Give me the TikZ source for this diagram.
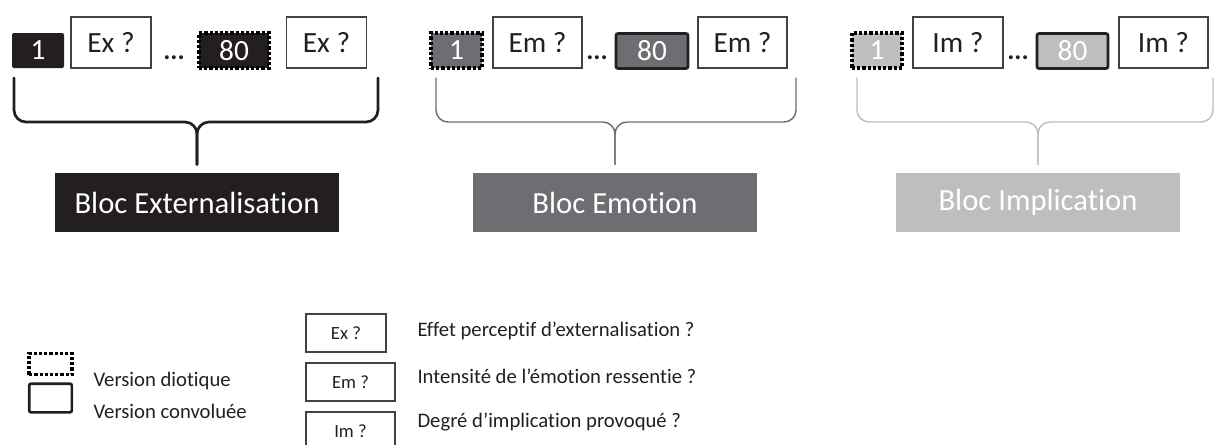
\documentclass[tikz,border=0pt]{standalone}
\usepackage{fontspec}
\setmainfont{Carlito}[Ligatures=NoCommon]
\usepackage{tikz}
\definecolor{cbblack}{HTML}{231F20}
\definecolor{cbgray}{HTML}{6D6E71}
\definecolor{cblight}{HTML}{BCBEC0}

\begin{document}
\begin{tikzpicture}[x=0.75pt, y=-0.75pt, line width=0.8pt,
  qbox/.style={draw=cbblack!85, fill=white, inner sep=0pt, minimum height=38.25pt, text=cbblack, font=\fontsize{22}{22}\selectfont},
  numbox/.style={inner sep=0pt, minimum height=26.25pt, text=white, font=\fontsize{22}{22}\selectfont},
  diotic/.style={draw=black, line width=2.6pt, dash pattern=on 2.4pt off 1.5pt},
  convol/.style={draw=cbblack, line width=2pt, rounded corners=1.5pt},
  dots/.style={inner sep=0pt, text=cbblack, font=\bfseries\fontsize{20}{20}\selectfont},
  blockbox/.style={inner sep=0pt, minimum width=213pt, minimum height=44.25pt, text=white, font=\fontsize{23}{23}\selectfont},
  legbox/.style={draw=cbblack!85, inner sep=0pt, minimum height=28.5pt, text=cbblack, font=\fontsize{14}{14}\selectfont},
  legtext/.style={anchor=west, inner sep=0pt, text=cbblack, font=\fontsize{15.5}{15.5}\selectfont}]
  \clip (0,0) rectangle (1215,444);

  % bloc externalisation
  \node[numbox, minimum width=39pt, fill=cbblack, rounded corners=1.5pt] (x1) at (38,50.5) {1};
  \node[qbox, minimum width=60pt] (xq1) at (111,42.5) {Ex ?};
  \node[dots] (xd) at (174,58) {...};
  \node[numbox, minimum width=52.5pt, fill=cbblack, diotic] (x80) at (234,50.5) {80};
  \node[qbox, minimum width=60pt] (xq2) at (326.5,42.5) {Ex ?};
  \node[blockbox, fill=cbblack] (bx) at (197,202.5) {Bloc Externalisation};

  % bloc emotion
  \node[numbox, minimum width=38.25pt, fill=cbgray, diotic] (m1) at (456.5,50.5) {1};
  \node[qbox, minimum width=66.75pt] (mq1) at (537.5,42.5) {Em ?};
  \node[dots] (md) at (597,58) {...};
  \node[numbox, minimum width=54pt, fill=cbgray, convol] (m80) at (652,51) {80};
  \node[qbox, minimum width=66.75pt] (mq2) at (742.5,42.5) {Em ?};
  \node[blockbox, fill=cbgray] (bm) at (615,202.5) {Bloc Emotion};

  % bloc implication
  \node[numbox, minimum width=37.5pt, fill=cblight, diotic] (i1) at (877,50.5) {1};
  \node[qbox, minimum width=67.5pt] (iq1) at (958,42.5) {Im ?};
  \node[dots] (id) at (1018,58) {...};
  \node[numbox, minimum width=53.25pt, fill=cblight, convol] (i80) at (1072.5,51) {80};
  \node[qbox, minimum width=66.75pt] (iq2) at (1163.5,42.5) {Im ?};
  \node[blockbox, fill=cblight] (bi) at (1038,202.5) {Bloc Implication};

  % accolades
  \foreach \l/\r/\b/\c/\w in {14/378/bx/cbblack/2pt, 436/796/bm/cbgray/1.1pt, 857/1213/bi/cblight/1.1pt}{
    \draw[\c, line width=\w, rounded corners=9pt, line cap=round, shorten >=6pt] (\l,78) -- (\l,122) -- (\b.north |- 0,122) -- (\b.north);
    \draw[\c, line width=\w, rounded corners=9pt, line cap=round, shorten >=6pt] (\r,78) -- (\r,122) -- (\b.north |- 0,122) -- (\b.north);
  }

  % legende
  \node[diotic, inner sep=0pt, minimum width=32pt, minimum height=16pt] (ldio) at (50.5,364) {};
  \node[convol, inner sep=0pt, minimum width=32pt, minimum height=21.5pt] (lconv) at (50.5,398) {};
  \node[legtext] (tdio) at (93,381) {Version diotique};
  \node[legtext] (tconv) at (93,411) {Version convoluée};
  \node[legbox, minimum width=60pt] (lex) at (346,333) {Ex ?};
  \node[legbox, minimum width=66.75pt] (lem) at (350.5,382) {Em ?};
  \node[legbox, minimum width=66.75pt] (lim) at (350.5,431) {Im ?};
  \node[legtext] (tex) at (417,331) {Effet perceptif d’externalisation ?};
  \node[legtext] (tem) at (417,376) {Intensité de l’émotion ressentie ?};
  \node[legtext] (tim) at (417,422) {Degré d’implication provoqué ?};
\end{tikzpicture}
\end{document}
